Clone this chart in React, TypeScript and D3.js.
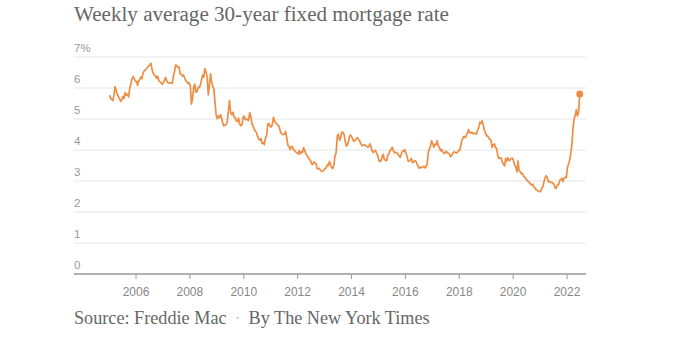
import React from 'react';
import * as d3 from 'd3';

// Freddie Mac 30-year fixed, roughly two readings a month
const rates2005 = [5.77, 5.66, 5.63, 5.59, 5.77, 6.04, 5.92, 5.80, 5.72, 5.66, 5.57, 5.62, 5.73, 5.66, 5.85, 5.77, 5.80, 5.71, 5.96, 6.12, 6.29, 6.37, 6.30, 6.22];
const rates2006 = [6.21, 6.09, 6.24, 6.28, 6.35, 6.30, 6.49, 6.55, 6.58, 6.62, 6.67, 6.71, 6.74, 6.80, 6.59, 6.48, 6.42, 6.38, 6.31, 6.38, 6.24, 6.20, 6.16, 6.12];
const rates2007 = [6.18, 6.25, 6.34, 6.22, 6.18, 6.16, 6.17, 6.16, 6.15, 6.37, 6.53, 6.74, 6.73, 6.67, 6.68, 6.46, 6.45, 6.38, 6.42, 6.33, 6.24, 6.20, 6.14, 6.17];
const rates2008 = [6.07, 5.48, 5.67, 6.04, 6.13, 5.87, 5.88, 6.03, 6.01, 6.09, 6.26, 6.42, 6.35, 6.63, 6.52, 6.35, 5.78, 6.10, 6.46, 6.20, 6.04, 5.97, 5.53, 5.14];
const rates2009 = [5.01, 5.10, 5.04, 5.14, 5.03, 4.87, 4.78, 4.80, 4.82, 4.91, 5.29, 5.59, 5.20, 5.14, 5.22, 5.07, 5.04, 4.94, 4.92, 5.03, 4.83, 4.78, 4.81, 5.05];
const rates2010 = [5.09, 4.98, 5.00, 4.97, 4.95, 5.21, 5.08, 4.84, 4.78, 4.69, 4.60, 4.57, 4.44, 4.36, 4.32, 4.37, 4.21, 4.24, 4.17, 4.39, 4.46, 4.83, 4.86, 4.77];
const rates2011 = [4.74, 4.81, 5.05, 4.95, 4.87, 4.86, 4.80, 4.78, 4.63, 4.55, 4.50, 4.50, 4.51, 4.60, 4.39, 4.15, 4.12, 4.01, 4.10, 4.11, 4.00, 3.98, 3.94, 3.91];
const rates2012 = [3.87, 3.98, 3.87, 3.95, 3.92, 4.08, 3.98, 3.88, 3.83, 3.75, 3.71, 3.66, 3.56, 3.53, 3.62, 3.59, 3.55, 3.40, 3.39, 3.41, 3.34, 3.31, 3.32, 3.35];
const rates2013 = [3.40, 3.42, 3.53, 3.50, 3.63, 3.54, 3.43, 3.40, 3.51, 3.81, 3.93, 4.46, 4.51, 4.31, 4.40, 4.58, 4.57, 4.50, 4.28, 4.13, 4.16, 4.29, 4.46, 4.48];
const rates2014 = [4.41, 4.32, 4.28, 4.33, 4.37, 4.40, 4.34, 4.29, 4.20, 4.14, 4.14, 4.17, 4.15, 4.12, 4.10, 4.10, 4.20, 4.12, 3.97, 3.92, 3.97, 3.99, 3.89, 3.83];
const rates2015 = [3.66, 3.63, 3.66, 3.80, 3.86, 3.69, 3.67, 3.65, 3.84, 3.87, 3.98, 4.02, 4.09, 3.98, 3.91, 3.93, 3.91, 3.86, 3.82, 3.76, 3.87, 3.97, 3.95, 4.01];
const rates2016 = [3.92, 3.81, 3.65, 3.64, 3.68, 3.73, 3.59, 3.61, 3.66, 3.64, 3.54, 3.48, 3.41, 3.45, 3.43, 3.44, 3.48, 3.42, 3.47, 3.54, 3.94, 4.03, 4.13, 4.30];
const rates2017 = [4.20, 4.09, 4.19, 4.17, 4.30, 4.14, 4.08, 3.97, 4.02, 3.94, 3.89, 3.90, 3.96, 3.92, 3.89, 3.86, 3.78, 3.83, 3.91, 3.94, 3.92, 3.90, 3.93, 3.99];
const rates2018 = [3.99, 4.15, 4.32, 4.40, 4.44, 4.40, 4.47, 4.55, 4.66, 4.56, 4.55, 4.57, 4.53, 4.54, 4.53, 4.51, 4.65, 4.72, 4.90, 4.86, 4.94, 4.81, 4.63, 4.55];
const rates2019 = [4.45, 4.46, 4.37, 4.35, 4.31, 4.08, 4.17, 4.20, 4.07, 4.06, 3.82, 3.73, 3.75, 3.75, 3.60, 3.55, 3.49, 3.73, 3.64, 3.75, 3.66, 3.68, 3.73, 3.74];
const rates2020 = [3.65, 3.51, 3.45, 3.29, 3.65, 3.33, 3.31, 3.23, 3.24, 3.15, 3.13, 3.07, 3.03, 2.99, 2.96, 2.91, 2.87, 2.90, 2.81, 2.78, 2.72, 2.71, 2.67, 2.67];
const rates2021 = [2.65, 2.77, 2.81, 2.97, 3.09, 3.17, 3.13, 2.97, 2.99, 2.95, 2.96, 2.93, 2.90, 2.78, 2.77, 2.87, 2.88, 3.01, 3.05, 3.09, 2.98, 3.10, 3.12, 3.11];
const rates2022 = [3.45, 3.55, 3.69, 3.92, 4.16, 4.67, 5.00, 5.11, 5.30, 5.10, 5.23, 5.81];

const ratesByYear: [number, number[]][] = [
  [2005, rates2005], [2006, rates2006], [2007, rates2007], [2008, rates2008],
  [2009, rates2009], [2010, rates2010], [2011, rates2011], [2012, rates2012],
  [2013, rates2013], [2014, rates2014], [2015, rates2015], [2016, rates2016],
  [2017, rates2017], [2018, rates2018], [2019, rates2019], [2020, rates2020],
  [2021, rates2021], [2022, rates2022],
];

const yTicks = [0, 1, 2, 3, 4, 5, 6, 7];
const xTickYears = [2006, 2008, 2010, 2012, 2014, 2016, 2018, 2020, 2022];

const title = 'Weekly average 30-year fixed mortgage rate';

type Point = { date: Date; rate: number };

const points: Point[] = ratesByYear.flatMap(([year, vals]) =>
  vals.map((rate, i) => ({
    date: new Date(year, Math.floor(i / 2), i % 2 ? 22 : 7),
    rate,
  }))
);

const App = () => {
  const width = 690, height = 362;
  const left = 74, right = 586, top = 57, bottom = 274;

  const x = d3.scaleTime()
    .domain([new Date(2003, 8, 13), new Date(2022, 8, 15)])
    .range([left, right]);

  const y = d3.scaleLinear().domain([0, 7]).range([bottom, top]);

  const line = d3.line<Point>()
    .x((d) => x(d.date))
    .y((d) => y(d.rate));

  const last = points[points.length - 1];
  const orange = '#ee8e45';
  const sans = '"Liberation Sans", Arial, sans-serif';
  const serif = '"Liberation Serif", "Times New Roman", serif';

  return (
    <svg width={width} height={height} style={{ position: 'absolute', left: 0, top: 0, background: '#fff' }}>
      <text x={left} y={21} fontFamily={serif} fontSize={21.1} fill="#666">{title}</text>

      {/* gridlines and y labels */}
      {yTicks.map((t) => (
        <g key={t}>
          {t > 0 && (
            <line x1={left} x2={right} y1={y(t)} y2={y(t)} stroke="#e6e6e6" strokeWidth={1} />
          )}
          <text x={left} y={y(t) - 5} fontFamily={sans} fontSize={11.5} fill="#999">
            {t === 7 ? '7%' : t}
          </text>
        </g>
      ))}

      {/* x axis */}
      <line x1={left} x2={right} y1={bottom} y2={bottom} stroke="#999" strokeWidth={1.3} />
      {xTickYears.map((yr) => {
        const px = x(new Date(yr, 0, 1));
        return (
          <g key={yr}>
            <line x1={px} x2={px} y1={bottom} y2={bottom + 5} stroke="#999" strokeWidth={1} />
            <text x={px} y={bottom + 22} textAnchor="middle" fontFamily={sans} fontSize={12} fill="#888">
              {yr}
            </text>
          </g>
        );
      })}

      <path d={line(points) ?? ''} fill="none" stroke={orange} strokeWidth={1.7} strokeLinejoin="round" />
      <circle cx={x(last.date)} cy={y(last.rate)} r={3.5} fill={orange} />

      <text x={left} y={324} fontFamily={serif} fontSize={18.2} fill="#666">
        Source: Freddie Mac
        <tspan fill="#ccc" dx={8}>·</tspan>
        <tspan dx={8}>By The New York Times</tspan>
      </text>
    </svg>
  );
};

export default App;
